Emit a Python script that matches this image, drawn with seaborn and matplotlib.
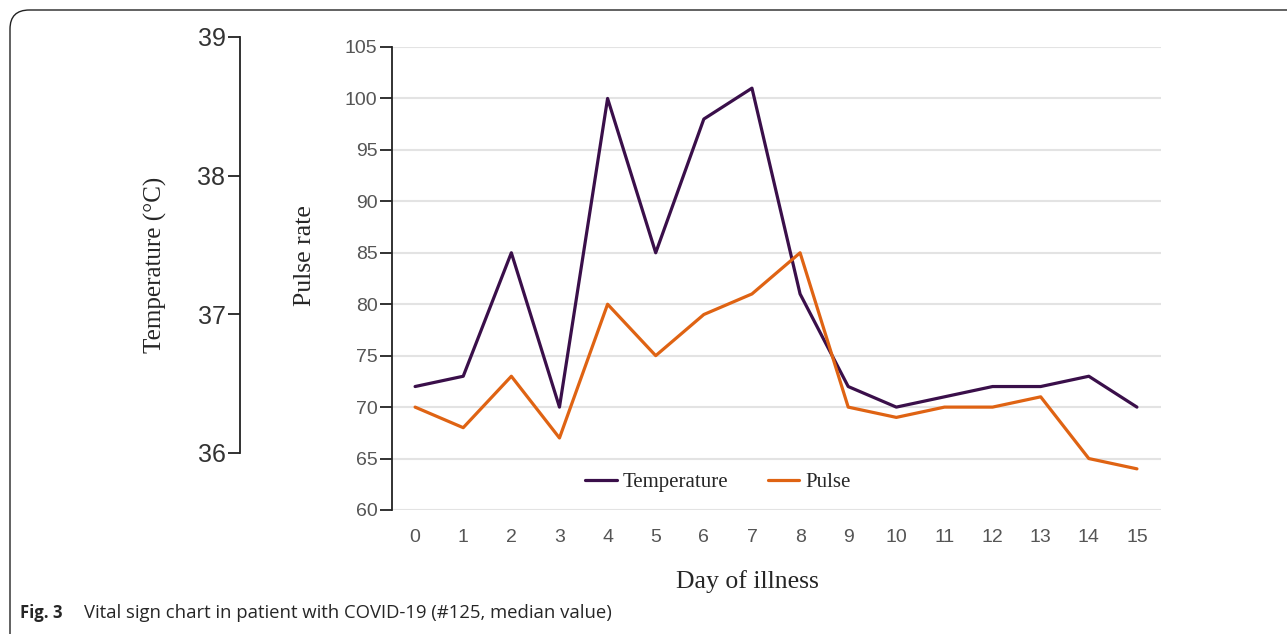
import numpy as np
import pandas as pd
import matplotlib.pyplot as plt
import seaborn as sns
from matplotlib.patches import FancyBboxPatch
from matplotlib.lines import Line2D

# day of illness
days = list(range(16))
# temperature curve as drawn (read on the pulse-rate scale)
temperature = [72, 73, 85, 70, 100, 85, 98, 101, 81, 72, 70, 71, 72, 72, 73, 70]
# pulse rate
pulse = [70, 68, 73, 67, 80, 75, 79, 81, 85, 70, 69, 70, 70, 71, 65, 64]

pulse_ticks = list(range(60, 106, 5))
temp_ticks = [36, 37, 38, 39]

SERIF = 'Liberation Serif'
SANS = 'Liberation Sans'
PURPLE = '#3a0f4a'
ORANGE = '#df6313'

sns.set_style('white')
plt.rcParams['font.family'] = ['DejaVu Sans']

df = pd.DataFrame({
    'day': days * 2,
    'value': temperature + pulse,
    'series': ['Temperature'] * len(days) + ['Pulse'] * len(days),
})

fig = plt.figure(figsize=(12.87, 6.34), dpi=100)

# rounded frame around the figure
frame = FancyBboxPatch((10 / 1287, -0.1), 1.2, 1.1 - 10 / 634,
                       boxstyle='round,pad=0,rounding_size=0.015',
                       transform=fig.transFigure, fill=False,
                       edgecolor='#222222', linewidth=1.0, mutation_aspect=2.0)
fig.patches.append(frame)

# main axes (pulse scale)
ax = fig.add_axes([392 / 1287, 1 - 510 / 634, 769 / 1287, 463 / 634])
sns.lineplot(data=df, x='day', y='value', hue='series',
             palette={'Temperature': PURPLE, 'Pulse': ORANGE},
             linewidth=2.3, ax=ax, legend=False)
ax.set_xlim(-0.48, 15.5)
ax.set_ylim(60, 105)
ax.set_xticks(days)
ax.set_yticks(pulse_ticks)
ax.grid(axis='y', color='#e3e3e3', linewidth=1.5)
ax.grid(axis='x', visible=False)
for s in ['top', 'right', 'bottom']:
    ax.spines[s].set_visible(False)
ax.spines['left'].set_color('#222222')
ax.spines['left'].set_linewidth(1.3)
ax.tick_params(axis='y', left=True, length=8.5, width=1.3, color='#222222',
               labelsize=14, labelcolor='#555555', pad=2)
ax.tick_params(axis='x', bottom=False, labelsize=14, labelcolor='#555555', pad=10)
for lab in ax.get_xticklabels() + ax.get_yticklabels():
    lab.set_family(SANS)
ax.set_xlabel('')
ax.set_ylabel('')
fig.text(747 / 1287, 1 - 582 / 634, 'Day of illness', ha='center', va='center',
         family=SERIF, fontsize=18.5)
fig.text(305 / 1287, 1 - 256 / 634, 'Pulse rate', rotation=90,
         ha='center', va='center', family=SERIF, fontsize=18.5)

handles = [Line2D([], [], color=PURPLE, lw=2.3),
           Line2D([], [], color=ORANGE, lw=2.3)]
ax.legend(handles, ['Temperature', 'Pulse'], ncol=2, frameon=False,
          loc='center', bbox_to_anchor=(0.424, 0.06),
          prop={'family': SERIF, 'size': 15},
          handlelength=1.5, handletextpad=0.3, columnspacing=1.9)

# separate temperature axis on the left
tax = fig.add_axes([240 / 1287, 1 - 453 / 634, 0.001, 416 / 634])
tax.set_ylim(36, 39)
tax.set_yticks(temp_ticks)
tax.set_xticks([])
for s in ['top', 'right', 'bottom']:
    tax.spines[s].set_visible(False)
tax.spines['left'].set_color('#222222')
tax.spines['left'].set_linewidth(1.3)
tax.patch.set_visible(False)
tax.tick_params(axis='y', left=True, length=8.5, width=1.3, color='#222222',
                labelsize=18, labelcolor='#333333', pad=2)
for lab in tax.get_yticklabels():
    lab.set_family(SANS)
fig.text(155 / 1287, 1 - 265 / 634, 'Temperature (°C)', rotation=90,
         ha='center', va='center', family=SERIF, fontsize=18)

# caption
fig.text(20 / 1287, 1 - 613 / 634, 'Fig. 3', family='Open Sans',
         fontweight='bold', fontsize=12, va='center')
fig.text(84 / 1287, 1 - 613 / 634,
         'Vital sign chart in patient with COVID-19 (#125, median value)',
         family='Open Sans', fontsize=13.3, va='center')

fig.savefig('out.png', dpi=100)
